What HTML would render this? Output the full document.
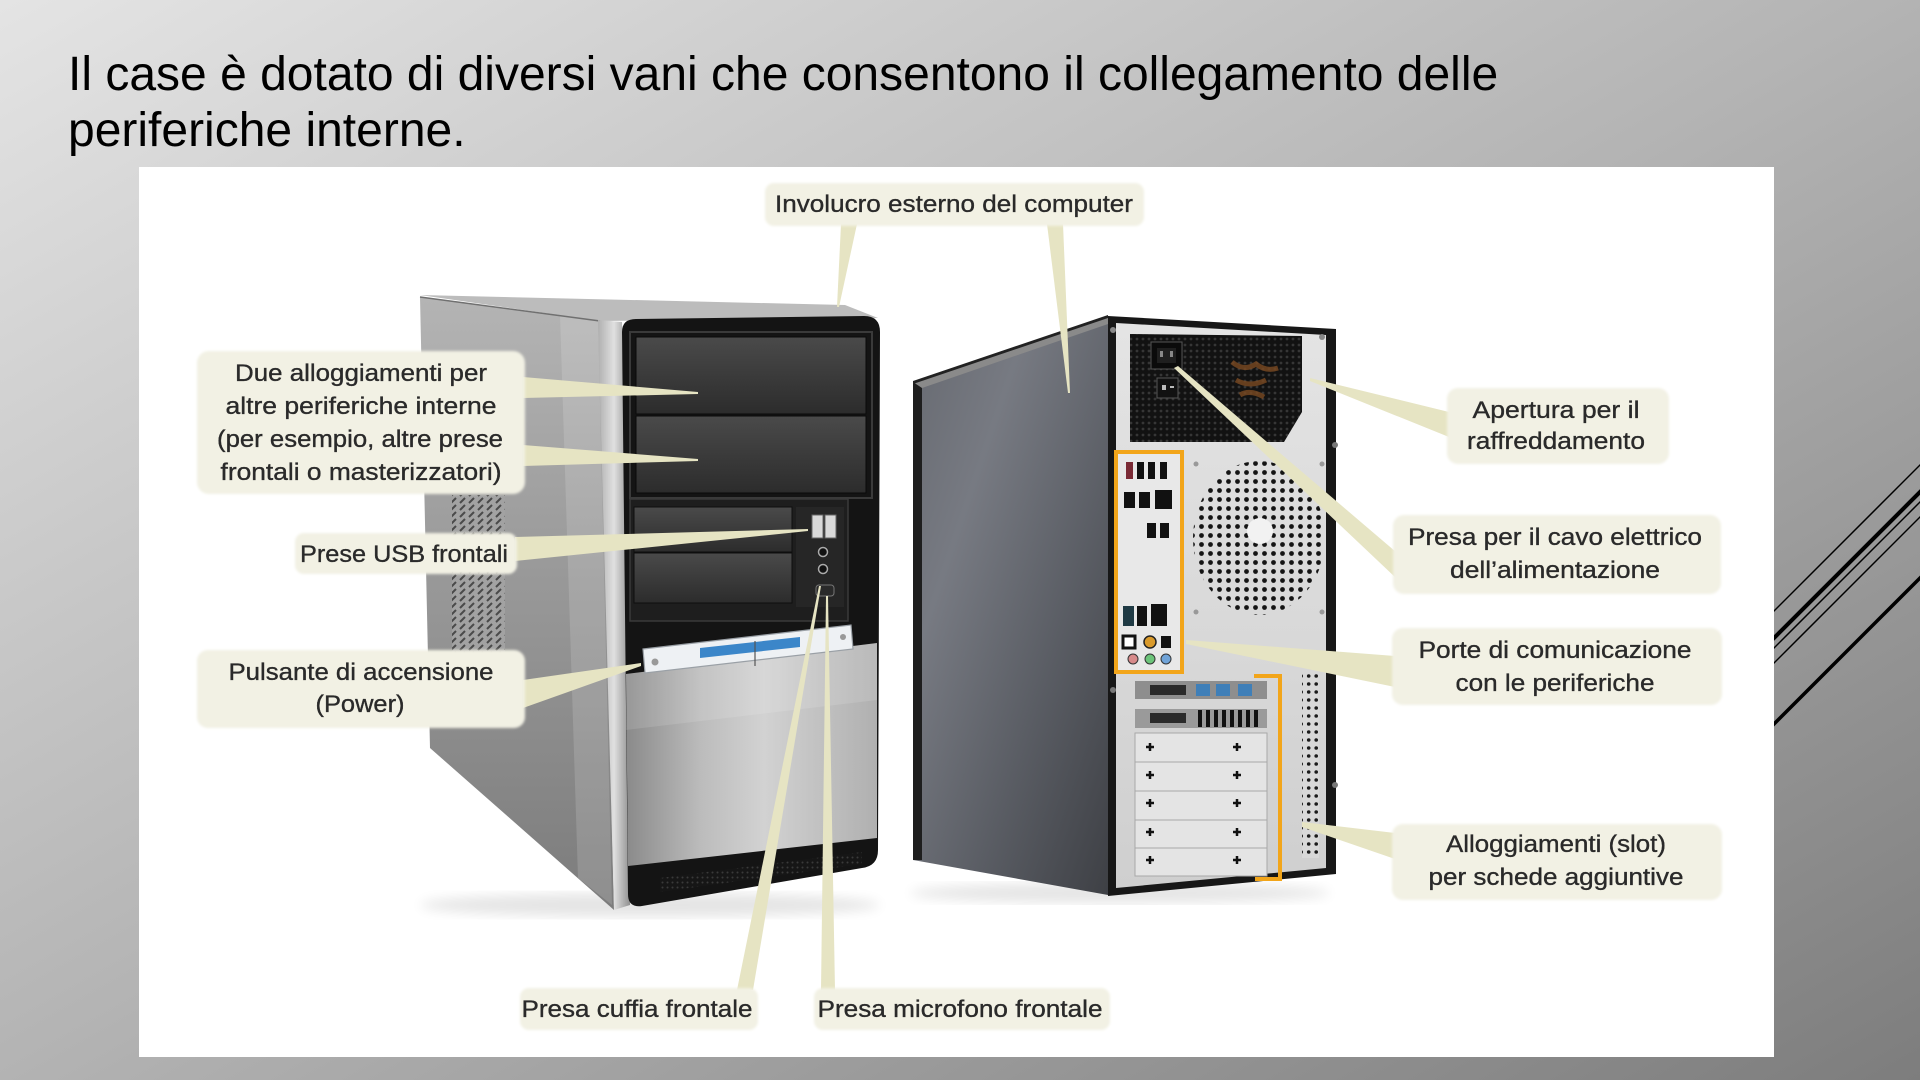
<!DOCTYPE html>
<html><head><meta charset="utf-8">
<style>
html,body{margin:0;padding:0;width:1920px;height:1080px;overflow:hidden;}
body{background:linear-gradient(to bottom right,#e4e4e4 0%,#b3b3b3 50%,#7d7d7d 100%);}
svg{position:absolute;left:0;top:0;}
.t{font-family:"Liberation Sans",Arial,sans-serif;font-size:48px;fill:#000;}
.l{font-family:"Liberation Sans Narrow","Liberation Sans",sans-serif;font-size:24px;fill:#2a2a2a;stroke:#2a2a2a;stroke-width:0.35px;}
</style></head><body>
<svg width="1920" height="1080" viewBox="0 0 1920 1080">
<defs>
  <linearGradient id="fside" x1="0" y1="0" x2="0" y2="1">
    <stop offset="0" stop-color="#b4b4b4"/><stop offset="0.45" stop-color="#999999"/><stop offset="1" stop-color="#7c7c7c"/>
  </linearGradient>
  <linearGradient id="bay" x1="0" y1="0" x2="0" y2="1">
    <stop offset="0" stop-color="#4a4a4a"/><stop offset="1" stop-color="#2c2c2c"/>
  </linearGradient>
  <linearGradient id="silver" x1="0" y1="0" x2="1" y2="0">
    <stop offset="0" stop-color="#8a8a8a"/><stop offset="0.3" stop-color="#bcbcbc"/><stop offset="0.55" stop-color="#d2d2d2"/><stop offset="1" stop-color="#b0b0b0"/>
  </linearGradient>
  <linearGradient id="edge" x1="0" y1="0" x2="1" y2="0">
    <stop offset="0" stop-color="#b0b0b0"/><stop offset="0.5" stop-color="#e0e0e0"/><stop offset="1" stop-color="#909090"/>
  </linearGradient>
  <linearGradient id="bside" x1="0" y1="0" x2="1" y2="1">
    <stop offset="0" stop-color="#666970"/><stop offset="0.3" stop-color="#777a82"/><stop offset="0.65" stop-color="#5a5d64"/><stop offset="1" stop-color="#3e4045"/>
  </linearGradient>
  <linearGradient id="bpanel" x1="0" y1="0" x2="0" y2="1">
    <stop offset="0" stop-color="#e4e4e4"/><stop offset="1" stop-color="#cfcfcf"/>
  </linearGradient>
  <pattern id="hatch" width="9" height="7" patternUnits="userSpaceOnUse">
    <rect width="9" height="7" fill="#a2a2a2"/>
    <path d="M1,6 L6,1" stroke="#4a4a4a" stroke-width="2"/>
  </pattern>
  <pattern id="mesh" width="6" height="6" patternUnits="userSpaceOnUse">
    <rect width="6" height="6" fill="#121212"/>
    <circle cx="3" cy="3" r="1.4" fill="#363636"/>
  </pattern>
  <pattern id="fan" width="9" height="9" patternUnits="userSpaceOnUse">
    <circle cx="4.5" cy="4.5" r="2.4" fill="#141414"/>
  </pattern>
  <pattern id="vdots" width="7.5" height="8" patternUnits="userSpaceOnUse">
    <rect width="7.5" height="8" fill="#d8d8d8"/>
    <circle cx="3.7" cy="4" r="1.8" fill="#1a1a1a"/>
  </pattern>
  <pattern id="fvent" width="5" height="5" patternUnits="userSpaceOnUse">
    <rect width="5" height="5" fill="#161616"/>
    <circle cx="2.5" cy="2.5" r="1" fill="#3a3a3a"/>
  </pattern>
  <clipPath id="fanclip"><ellipse cx="1259" cy="538" rx="66" ry="77"/></clipPath>
  <filter id="soft" x="-5%" y="-10%" width="110%" height="120%"><feGaussianBlur stdDeviation="1.3"/></filter>
  <filter id="blur6"><feGaussianBlur stdDeviation="6"/></filter>
</defs>

<!-- decorative lines -->
<g stroke="#000" stroke-linecap="butt">
  <line x1="1760" y1="625" x2="1925" y2="460" stroke-width="1.5"/>
  <line x1="1760" y1="652" x2="1925" y2="487" stroke-width="4"/>
  <line x1="1760" y1="662" x2="1925" y2="497" stroke-width="1.5"/>
  <line x1="1760" y1="677" x2="1925" y2="512" stroke-width="1.5"/>
  <line x1="1760" y1="738" x2="1925" y2="573" stroke-width="3.5"/>
</g>

<!-- title -->
<text class="t" x="68" y="90">Il case è dotato di diversi vani che consentono il collegamento delle</text>
<text class="t" x="68" y="146">periferiche interne.</text>

<!-- white picture area -->
<rect x="139" y="167" width="1635" height="890" fill="#ffffff"/>

<!-- ============ FRONT TOWER ============ -->
<ellipse cx="650" cy="905" rx="230" ry="12" fill="#000" opacity="0.10" filter="url(#blur6)"/>
<polygon points="420,297 600,321 614,910 430,748" fill="url(#fside)"/>
<polygon points="560,315 598,320 612,905 578,878" fill="#ffffff" opacity="0.14"/>
<rect x="452" y="495" width="53" height="165" fill="url(#hatch)"/>
<polygon points="420,295 845,305 878,318 600,321" fill="#bcbcbc"/>
<line x1="420" y1="297" x2="600" y2="321" stroke="#707070" stroke-width="1.5"/>
<polygon points="598,320 622,322 630,905 614,910" fill="url(#edge)"/>
<path d="M622,332 Q622,319 636,319 L864,316 Q880,316 880,332 L878,850 Q878,866 862,868 L642,906 Q628,908 628,894 Z" fill="#141414"/>
<rect x="630" y="332" width="242" height="166" fill="none" stroke="#3a3a3a" stroke-width="2"/>
<rect x="636" y="337" width="230" height="77" fill="url(#bay)" stroke="#0a0a0a"/>
<rect x="636" y="416" width="230" height="77" fill="url(#bay)" stroke="#0a0a0a"/>
<rect x="630" y="499" width="218" height="122" fill="#1e1e1e" stroke="#3a3a3a" stroke-width="1.5"/>
<rect x="634" y="507" width="158" height="45" fill="url(#bay)" stroke="#0e0e0e"/>
<rect x="634" y="553" width="158" height="50" fill="url(#bay)" stroke="#0e0e0e"/>
<rect x="796" y="507" width="48" height="100" fill="#262626"/>
<rect x="812" y="515" width="11" height="23" fill="#d9d9d9" stroke="#666"/>
<rect x="825" y="515" width="11" height="23" fill="#d9d9d9" stroke="#666"/>
<circle cx="823" cy="552" r="4.5" fill="#111" stroke="#aaa" stroke-width="1.5"/>
<circle cx="823" cy="569" r="4.5" fill="#111" stroke="#aaa" stroke-width="1.5"/>
<rect x="816" y="585" width="18" height="11" rx="3" fill="#2a2a2a" stroke="#777"/>
<!-- silver lower panel -->
<polygon points="626,674 877,643 877,838 628,866" fill="url(#silver)"/>
<polygon points="626,674 877,643 877,700 626,730" fill="#ffffff" opacity="0.12"/>
<polygon points="660,878 862,852 862,864 660,892" fill="url(#fvent)"/>
<!-- power strip -->
<polygon points="643,649 851,625 853,649 645,673" fill="#eef1f4" stroke="#9aa0a6" stroke-width="1.2"/>
<polygon points="700,648 800,637 800,647 700,658" fill="#3b86c9"/>
<line x1="755" y1="641" x2="755" y2="666" stroke="#555" stroke-width="1.2"/>
<circle cx="655" cy="662" r="3.5" fill="#999"/>
<circle cx="843" cy="637" r="3" fill="#999"/>

<!-- ============ BACK TOWER ============ -->
<ellipse cx="1120" cy="893" rx="210" ry="10" fill="#000" opacity="0.10" filter="url(#blur6)"/>
<polygon points="913,382 1108,318 1108,895 913,860" fill="url(#bside)"/>
<polygon points="913,382 922,380 922,860 913,860" fill="#1e1e1e"/>
<polygon points="913,382 1108,316 1108,324 922,388" fill="#8a8a8a"/>
<polygon points="913,381 1108,315 1108,318 913,384" fill="#222"/>
<polygon points="1108,316 1336,329 1336,874 1108,896" fill="#171717"/>
<polygon points="1116,323 1326,335 1326,868 1116,888" fill="url(#bpanel)"/>
<!-- PSU -->
<path d="M1130,334 L1302,336 L1302,412 L1284,442 L1130,442 Z" fill="url(#mesh)"/>
<rect x="1151" y="342" width="31" height="27" fill="#0b0b0b" stroke="#555"/>
<rect x="1157" y="348" width="19" height="15" fill="#1f1f1f"/>
<rect x="1160" y="351" width="3" height="6" fill="#888"/><rect x="1170" y="351" width="3" height="6" fill="#888"/>
<rect x="1157" y="378" width="21" height="20" fill="#111" stroke="#555"/>
<rect x="1162" y="385" width="4" height="5" fill="#bbb"/><rect x="1170" y="386" width="4" height="2" fill="#bbb"/>
<path d="M1232,362 q12,10 24,2 q10,8 22,4 M1236,380 q14,8 30,0 M1240,395 q10,-6 24,2" stroke="#7a4a22" stroke-width="5" fill="none" opacity="0.8"/>
<circle cx="1113" cy="330" r="3" fill="#888"/>
<circle cx="1322" cy="337" r="3" fill="#888"/>
<circle cx="1335" cy="445" r="3" fill="#777"/>
<circle cx="1335" cy="785" r="3" fill="#777"/>
<circle cx="1113" cy="690" r="3" fill="#777"/>
<!-- I/O -->
<rect x="1116" y="452" width="66" height="220" fill="#e8e8e8" stroke="#f2a51a" stroke-width="4"/>
<rect x="1126" y="462" width="7" height="17" fill="#7a2a35"/>
<rect x="1137" y="462" width="7" height="17" fill="#111"/>
<rect x="1148" y="462" width="7" height="17" fill="#111"/>
<rect x="1160" y="462" width="7" height="17" fill="#111"/>
<rect x="1124" y="492" width="11" height="16" fill="#111"/>
<rect x="1139" y="492" width="11" height="16" fill="#111"/>
<rect x="1155" y="490" width="17" height="19" fill="#111"/>
<rect x="1147" y="523" width="9" height="15" fill="#111"/>
<rect x="1160" y="523" width="9" height="15" fill="#111"/>
<rect x="1123" y="606" width="11" height="20" fill="#1f3a44"/>
<rect x="1137" y="606" width="10" height="20" fill="#111"/>
<rect x="1151" y="604" width="16" height="22" fill="#111"/>
<rect x="1123" y="636" width="12" height="12" fill="#fff" stroke="#111" stroke-width="3"/>
<circle cx="1150" cy="642" r="6" fill="#d99a2b" stroke="#222" stroke-width="1.5"/>
<rect x="1161" y="636" width="10" height="12" fill="#111"/>
<circle cx="1133" cy="659" r="5" fill="#d78a8a" stroke="#333"/>
<circle cx="1150" cy="659" r="5" fill="#6cc47a" stroke="#333"/>
<circle cx="1166" cy="659" r="5" fill="#6fa3d8" stroke="#333"/>
<!-- fan grille -->
<rect x="1190" y="460" width="140" height="158" fill="url(#fan)" clip-path="url(#fanclip)"/>
<circle cx="1260" cy="531" r="13" fill="#f2f2f2"/>
<circle cx="1196" cy="464" r="2.5" fill="#999"/><circle cx="1322" cy="464" r="2.5" fill="#999"/>
<circle cx="1196" cy="612" r="2.5" fill="#999"/><circle cx="1322" cy="612" r="2.5" fill="#999"/>
<!-- slots -->
<rect x="1135" y="681" width="132" height="18" fill="#8e8e8e"/>
<rect x="1150" y="685" width="36" height="10" fill="#2a2a2a"/>
<rect x="1196" y="684" width="14" height="12" fill="#3f7fb8"/>
<rect x="1216" y="684" width="14" height="12" fill="#3f7fb8"/>
<rect x="1238" y="684" width="14" height="12" fill="#3f7fb8"/>
<rect x="1135" y="709" width="132" height="19" fill="#9a9a9a"/>
<rect x="1150" y="713" width="36" height="10" fill="#2a2a2a"/>
<path d="M1200,710 v17 M1208,710 v17 M1216,710 v17 M1224,710 v17 M1232,710 v17 M1240,710 v17 M1248,710 v17 M1256,710 v17" stroke="#111" stroke-width="4"/>
<g fill="#e4e4e4" stroke="#a8a8a8" stroke-width="1">
  <rect x="1135" y="733" width="132" height="29"/>
  <rect x="1135" y="762" width="132" height="29"/>
  <rect x="1135" y="791" width="132" height="29"/>
  <rect x="1135" y="820" width="132" height="28"/>
  <rect x="1135" y="848" width="132" height="28"/>
</g>
<g stroke="#111" stroke-width="2.5">
  <path d="M1146,747 h8 M1150,743 v8 M1233,747 h8 M1237,743 v8"/>
  <path d="M1146,775 h8 M1150,771 v8 M1233,775 h8 M1237,771 v8"/>
  <path d="M1146,803 h8 M1150,799 v8 M1233,803 h8 M1237,799 v8"/>
  <path d="M1146,832 h8 M1150,828 v8 M1233,832 h8 M1237,828 v8"/>
  <path d="M1146,860 h8 M1150,856 v8 M1233,860 h8 M1237,856 v8"/>
</g>
<polyline points="1254,676 1280,676 1280,879 1255,879" fill="none" stroke="#f2a51a" stroke-width="4"/>
<rect x="1302" y="670" width="17" height="188" fill="url(#vdots)"/>

<!-- ============ POINTERS ============ -->
<g fill="#e6e4c3">
  <polygon points="841,224 857,224 839,307 837,307"/>
  <polygon points="1047,224 1063,224 1070,393 1068,393"/>
  <polygon points="523,377 698,392 698,394 523,398"/>
  <polygon points="523,445 698,459 698,461 523,466"/>
  <polygon points="515,537 808,529 808,531 515,561"/>
  <polygon points="523,680 641,663 641,666 523,708"/>
  <polygon points="737,990 753,990 821,586 819,586"/>
  <polygon points="821,990 835,990 828,596 826,596"/>
  <polygon points="1310,378 1449,412 1449,437 1310,381"/>
  <polygon points="1174,368 1178,366 1396,552 1396,578"/>
  <polygon points="1186,640 1395,656 1395,687 1186,644"/>
  <polygon points="1302,822 1395,833 1395,859 1302,827"/>
</g>

<!-- ============ LABEL BOXES ============ -->
<g fill="#f2f1e4" filter="url(#soft)">
  <rect x="765" y="183" width="379" height="43" rx="9"/>
  <rect x="197" y="351" width="328" height="143" rx="12"/>
  <rect x="295" y="533" width="222" height="41" rx="9"/>
  <rect x="197" y="650" width="328" height="78" rx="11"/>
  <rect x="520" y="988" width="238" height="42" rx="9"/>
  <rect x="814" y="988" width="296" height="42" rx="9"/>
  <rect x="1447" y="388" width="222" height="76" rx="11"/>
  <rect x="1393" y="515" width="328" height="79" rx="11"/>
  <rect x="1392" y="628" width="330" height="77" rx="11"/>
  <rect x="1392" y="824" width="330" height="76" rx="11"/>
</g>

<!-- ============ LABEL TEXT ============ -->
<g class="l" text-anchor="middle">
  <text x="954" y="212" textLength="358" lengthAdjust="spacingAndGlyphs">Involucro esterno del computer</text>
  <text x="361" y="381" textLength="252" lengthAdjust="spacingAndGlyphs">Due alloggiamenti per</text>
  <text x="361" y="414" textLength="271" lengthAdjust="spacingAndGlyphs">altre periferiche interne</text>
  <text x="360" y="447" textLength="286" lengthAdjust="spacingAndGlyphs">(per esempio, altre prese</text>
  <text x="361" y="480" textLength="281" lengthAdjust="spacingAndGlyphs">frontali o masterizzatori)</text>
  <text x="404" y="562" textLength="208" lengthAdjust="spacingAndGlyphs">Prese USB frontali</text>
  <text x="361" y="680" textLength="265" lengthAdjust="spacingAndGlyphs">Pulsante di accensione</text>
  <text x="360" y="712" textLength="89" lengthAdjust="spacingAndGlyphs">(Power)</text>
  <text x="637" y="1017" textLength="231" lengthAdjust="spacingAndGlyphs">Presa cuffia frontale</text>
  <text x="960" y="1017" textLength="285" lengthAdjust="spacingAndGlyphs">Presa microfono frontale</text>
  <text x="1556" y="418" textLength="167" lengthAdjust="spacingAndGlyphs">Apertura per il</text>
  <text x="1556" y="449" textLength="178" lengthAdjust="spacingAndGlyphs">raffreddamento</text>
  <text x="1555" y="545" textLength="294" lengthAdjust="spacingAndGlyphs">Presa per il cavo elettrico</text>
  <text x="1555" y="578" textLength="210" lengthAdjust="spacingAndGlyphs">dell’alimentazione</text>
  <text x="1555" y="658" textLength="273" lengthAdjust="spacingAndGlyphs">Porte di comunicazione</text>
  <text x="1555" y="691" textLength="199" lengthAdjust="spacingAndGlyphs">con le periferiche</text>
  <text x="1556" y="852" textLength="220" lengthAdjust="spacingAndGlyphs">Alloggiamenti (slot)</text>
  <text x="1556" y="885" textLength="255" lengthAdjust="spacingAndGlyphs">per schede aggiuntive</text>
</g>
</svg>
</body></html>
